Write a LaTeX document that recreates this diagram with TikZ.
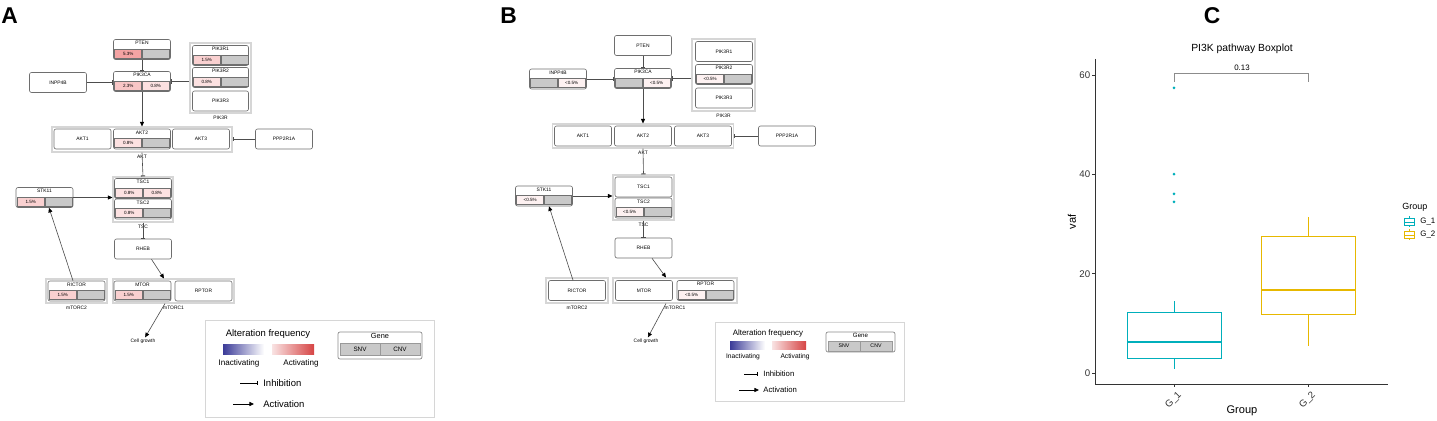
\documentclass[tikz,border=0pt]{standalone}
\usepackage{fontspec}
\setmainfont{Liberation Sans}
\usetikzlibrary{arrows.meta}
\newlength\px
\setlength\px{0.02cm}
\newcommand\fsz[1]{\fontsize{#1}{#1}\selectfont}
\newcommand\genefont{\fsz{2.8}}
\newcommand\cellfont{\fsz{2.6}}
\definecolor{boxline}{HTML}{6E6E6E}
\definecolor{grpline}{HTML}{D6D6D6}
\definecolor{cellgrey}{HTML}{C9C9C9}
\definecolor{cellline}{HTML}{707070}
\definecolor{fA}{HTML}{F4A3A3}
\definecolor{fB}{HTML}{F8C6C6}
\definecolor{fC}{HTML}{F9D0D0}
\definecolor{fD}{HTML}{FCE1E1}
\definecolor{fE}{HTML}{FDF1F1}
\definecolor{inact}{HTML}{3B3B98}
\definecolor{actv}{HTML}{D64444}
\definecolor{gone}{HTML}{00AFBB}
\definecolor{gtwo}{HTML}{E7B800}
\definecolor{edgec}{HTML}{4D4D4D}
\definecolor{axisc}{HTML}{333333}

\begin{document}
\begin{tikzpicture}[x=0.02cm, y=-0.02cm,
  gene/.style={draw=boxline, line width=0.35pt, rounded corners=2*\px, minimum width=57*\px, minimum height=20*\px, inner sep=0pt, font=\genefont},
  bargene/.style={gene, label={[gtitle]north:#1}},
  gtitle/.style={anchor=north, inner sep=1.8*\px, font=\genefont},
  grp/.style={draw=grpline, line width=0.6pt, inner sep=0pt},
  grplabel/.style={font=\genefont, inner sep=2*\px},
  cell/.style={draw=cellline, line width=0.3pt, fill=cellgrey, minimum width=27*\px, minimum height=9*\px, inner sep=0pt, font=\cellfont},
  lcell/.style={cell, anchor=south east},
  rcell/.style={cell, anchor=south west},
  inh/.style={draw=edgec, line width=0.35pt, -{Bar[width=2.4pt, line width=0.6pt]}},
  act/.style={draw=edgec, line width=0.35pt, -{Triangle[length=2.6pt, width=2.3pt, color=black]}},
  panel/.style={font=\fsz{13}\bfseries, inner sep=0pt},
  txt/.style={inner sep=0pt},
  axis/.style={draw=axisc, line width=0.5pt}]
\useasboundingbox (0,0) rectangle (1437,421);

% ---------- panel A ----------
\node[panel] (aLab) at (9.5,16) {A};
% complexes
\node[grp, minimum width=61*\px, minimum height=70*\px, label={[grplabel]south:PIK3R}] (aPIK3R) at (220.5,78) {};
\node[grp, minimum width=180*\px, minimum height=25*\px, label={[grplabel]south:AKT}] (aAKT) at (142,139.5) {};
\node[grp, minimum width=60*\px, minimum height=45*\px, label={[grplabel]south:TSC}] (aTSC) at (143,199.5) {};
\node[grp, minimum width=121*\px, minimum height=24*\px, label={[grplabel]south:mTORC1}] (amTORC1) at (173.5,291) {};
\node[grp, minimum width=61*\px, minimum height=24*\px, label={[grplabel]south:mTORC2}] (amTORC2) at (76.5,291) {};
% genes
\node[bargene=PTEN] (aPTEN) at (142,49.5) {};
\node[lcell, fill=fA] (aPTENs) at ([yshift=1.5*\px]aPTEN.south) {5.3\%};
\node[rcell] (aPTENc) at ([yshift=1.5*\px]aPTEN.south) {};
\node[bargene=PIK3CA] (aPIK3CA) at (142,81.5) {};
\node[lcell, fill=fB] (aPIK3CAs) at ([yshift=1.5*\px]aPIK3CA.south) {2.3\%};
\node[rcell, fill=fD] (aPIK3CAc) at ([yshift=1.5*\px]aPIK3CA.south) {0.8\%};
\node[gene] (aINPP4B) at (58,82.5) {INPP4B};
\node[bargene=PIK3R1, minimum width=56*\px] (aPIK3R1) at (220.5,55.5) {};
\node[lcell, fill=fC] (aPIK3R1s) at ([yshift=1.5*\px]aPIK3R1.south) {1.5\%};
\node[rcell] (aPIK3R1c) at ([yshift=1.5*\px]aPIK3R1.south) {};
\node[bargene=PIK3R2, minimum width=56*\px] (aPIK3R2) at (220.5,77.5) {};
\node[lcell, fill=fD] (aPIK3R2s) at ([yshift=1.5*\px]aPIK3R2.south) {0.8\%};
\node[rcell] (aPIK3R2c) at ([yshift=1.5*\px]aPIK3R2.south) {};
\node[gene, minimum width=56*\px] (aPIK3R3) at (220.5,101) {PIK3R3};
\node[gene] (aAKT1) at (82.5,139) {AKT1};
\node[bargene=AKT2] (aAKT2) at (142,139) {};
\node[lcell, fill=fD] (aAKT2s) at ([yshift=1.5*\px]aAKT2.south) {0.8\%};
\node[rcell] (aAKT2c) at ([yshift=1.5*\px]aAKT2.south) {};
\node[gene] (aAKT3) at (201,139) {AKT3};
\node[gene] (aPPP2R1A) at (284,139) {PPP2R1A};
\node[bargene=TSC1] (aTSC1) at (143,188.5) {};
\node[lcell, fill=fD] (aTSC1s) at ([yshift=1.5*\px]aTSC1.south) {0.8\%};
\node[rcell, fill=fD] (aTSC1c) at ([yshift=1.5*\px]aTSC1.south) {0.8\%};
\node[bargene=TSC2] (aTSC2) at (143,209) {};
\node[lcell, fill=fD] (aTSC2s) at ([yshift=1.5*\px]aTSC2.south) {0.8\%};
\node[rcell] (aTSC2c) at ([yshift=1.5*\px]aTSC2.south) {};
\node[bargene=STK11] (aSTK11) at (44.5,197.5) {};
\node[lcell, fill=fC] (aSTK11s) at ([yshift=1.5*\px]aSTK11.south) {1.5\%};
\node[rcell] (aSTK11c) at ([yshift=1.5*\px]aSTK11.south) {};
\node[gene] (aRHEB) at (143,249) {RHEB};
\node[bargene=MTOR] (aMTOR) at (142.5,291) {};
\node[lcell, fill=fC] (aMTORs) at ([yshift=1.5*\px]aMTOR.south) {1.5\%};
\node[rcell] (aMTORc) at ([yshift=1.5*\px]aMTOR.south) {};
\node[gene] (aRPTOR) at (203.5,291) {RPTOR};
\node[bargene=RICTOR] (aRICTOR) at (76.5,291) {};
\node[lcell, fill=fC] (aRICTORs) at ([yshift=1.5*\px]aRICTOR.south) {1.5\%};
\node[rcell] (aRICTORc) at ([yshift=1.5*\px]aRICTOR.south) {};
\node[txt, font=\genefont, inner sep=1*\px] (aCell) at (143,341) {Cell growth};
% relations
\draw[inh] (aPTEN.south) -- (aPIK3CA.north);
\draw[inh] (aINPP4B.east) -- (aINPP4B.east -| aPIK3CA.west);
\draw[inh] (aPIK3CA.east -| aPIK3R.west) -- (aPIK3CA.east);
\draw[act] (aPIK3CA.south) -- (aAKT.north);
\draw[inh] (aPPP2R1A.west) -- (aPPP2R1A.west -| aAKT.east);
\draw[inh] (aAKT.south) -- (aTSC.north);
\draw[act] (aSTK11.east) -- (aSTK11.east -| aTSC.west);
\draw[inh] (aTSC.south) -- (aRHEB.north);
\draw[act] ([xshift=8.5*\px]aRHEB.south) -- ([xshift=-9.5*\px]amTORC1.north);
\draw[act] ([xshift=-3.5*\px]aRICTOR.north) -- ([xshift=4.5*\px]aSTK11.south);
\draw[act] ([xshift=-8.5*\px]amTORC1.south) -- (aCell);
% legend
\node[draw=grpline, line width=0.5pt, minimum width=229*\px, minimum height=97*\px, inner sep=0pt] (aLeg) at (319.5,368.5) {};
\node[txt, font=\fsz{5.4}] (aLegT) at (268,334) {Alteration frequency};
\shade[left color=inact, right color=white] (223,345) rectangle (264,355);
\shade[left color=actv!15, right color=actv] (272,345) rectangle (314,355);
\node[txt, font=\fsz{4.6}] (aInact) at (239,363) {Inactivating};
\node[txt, font=\fsz{4.6}] (aActv) at (301,363) {Activating};
\coordinate (aInhS) at (240,383);
\coordinate (aInhE) at (258,383);
\draw[inh, draw=black, line width=0.5pt] (aInhS) -- (aInhE);
\node[txt, anchor=west, font=\fsz{5.4}] (aInhT) at (263,383) {Inhibition};
\coordinate (aActS) at (233,404);
\coordinate (aActE) at (254,404);
\draw[act, draw=black, line width=0.5pt] (aActS) -- (aActE);
\node[txt, anchor=west, font=\fsz{5.4}] (aActT) at (263,404) {Activation};
\node[draw=black!45, line width=0.4pt, rounded corners=2*\px, minimum width=84*\px, minimum height=27*\px, inner sep=0pt,
  label={[gtitle, inner sep=1.2*\px, font=\fsz{4.2}]north:Gene}] (aGene) at (380,345.5) {};
\node[cell, draw=black!40, minimum width=40*\px, minimum height=12*\px, font=\fsz{3.6}] (aSNV) at (360,349) {SNV};
\node[cell, draw=black!40, minimum width=40*\px, minimum height=12*\px, font=\fsz{3.6}] (aCNV) at (400,349) {CNV};

% ---------- panel B ----------
\node[panel] (bLab) at (508.5,15.5) {B};
% complexes
\node[grp, minimum width=63*\px, minimum height=72*\px, label={[grplabel]south:PIK3R}] (bPIK3R) at (723.5,75) {};
\node[grp, minimum width=181*\px, minimum height=24*\px, label={[grplabel]south:AKT}] (bAKT) at (643,136) {};
\node[grp, minimum width=61*\px, minimum height=45*\px, label={[grplabel]south:TSC}] (bTSC) at (643.5,197.5) {};
\node[grp, minimum width=124*\px, minimum height=25*\px, label={[grplabel]south:mTORC1}] (bmTORC1) at (675,290.5) {};
\node[grp, minimum width=62*\px, minimum height=25*\px, label={[grplabel]south:mTORC2}] (bmTORC2) at (577,290.5) {};
% genes
\node[gene] (bPTEN) at (643,45.5) {PTEN};
\node[bargene=PIK3CA] (bPIK3CA) at (643,78.5) {};
\node[lcell] (bPIK3CAs) at ([yshift=1.5*\px]bPIK3CA.south) {};
\node[rcell, fill=fE] (bPIK3CAc) at ([yshift=1.5*\px]bPIK3CA.south) {<0.5\%};
\node[bargene=INPP4B] (bINPP4B) at (558,79) {};
\node[lcell] (bINPP4Bs) at ([yshift=1.5*\px]bINPP4B.south) {};
\node[rcell, fill=fE] (bINPP4Bc) at ([yshift=1.5*\px]bINPP4B.south) {<0.5\%};
\node[gene] (bPIK3R1) at (724,51.5) {PIK3R1};
\node[bargene=PIK3R2] (bPIK3R2) at (724,74.5) {};
\node[lcell, fill=fE] (bPIK3R2s) at ([yshift=1.5*\px]bPIK3R2.south) {<0.5\%};
\node[rcell] (bPIK3R2c) at ([yshift=1.5*\px]bPIK3R2.south) {};
\node[gene] (bPIK3R3) at (724,98) {PIK3R3};
\node[gene] (bAKT1) at (583,136) {AKT1};
\node[gene] (bAKT2) at (643,136) {AKT2};
\node[gene] (bAKT3) at (703,136) {AKT3};
\node[gene] (bPPP2R1A) at (787,136) {PPP2R1A};
\node[gene] (bTSC1) at (643.5,187) {TSC1};
\node[bargene=TSC2] (bTSC2) at (643.5,208) {};
\node[lcell, fill=fE] (bTSC2s) at ([yshift=1.5*\px]bTSC2.south) {<0.5\%};
\node[rcell] (bTSC2c) at ([yshift=1.5*\px]bTSC2.south) {};
\node[bargene=STK11] (bSTK11) at (544,196) {};
\node[lcell, fill=fE] (bSTK11s) at ([yshift=1.5*\px]bSTK11.south) {<0.5\%};
\node[rcell] (bSTK11c) at ([yshift=1.5*\px]bSTK11.south) {};
\node[gene] (bRHEB) at (643.5,248) {RHEB};
\node[gene] (bMTOR) at (644,290.5) {MTOR};
\node[bargene=RPTOR] (bRPTOR) at (705.5,290.5) {};
\node[lcell, fill=fE] (bRPTORs) at ([yshift=1.5*\px]bRPTOR.south) {<0.5\%};
\node[rcell] (bRPTORc) at ([yshift=1.5*\px]bRPTOR.south) {};
\node[gene] (bRICTOR) at (577,290.5) {RICTOR};
\node[txt, font=\genefont, inner sep=1*\px] (bCell) at (646,341) {Cell growth};
% relations
\draw[inh] (bPTEN.south) -- (bPIK3CA.north);
\draw[inh] (bINPP4B.east) -- (bINPP4B.east -| bPIK3CA.west);
\draw[inh] (bPIK3CA.east -| bPIK3R.west) -- (bPIK3CA.east);
\draw[act] (bPIK3CA.south) -- (bAKT.north);
\draw[inh] (bPPP2R1A.west) -- (bPPP2R1A.west -| bAKT.east);
\draw[inh] (bAKT.south) -- (bTSC.north);
\draw[act] (bSTK11.east) -- (bSTK11.east -| bTSC.west);
\draw[inh] (bTSC.south) -- (bRHEB.north);
\draw[act] ([xshift=8.5*\px]bRHEB.south) -- ([xshift=-9*\px]bmTORC1.north);
\draw[act] ([xshift=-4*\px]bRICTOR.north) -- ([xshift=5*\px]bSTK11.south);
\draw[act] ([xshift=-9*\px]bmTORC1.south) -- (bCell);
% legend
\node[draw=grpline, line width=0.5pt, minimum width=189*\px, minimum height=79*\px, inner sep=0pt] (bLeg) at (809.5,361.5) {};
\node[txt, font=\fsz{4.5}] (bLegT) at (768,333) {Alteration frequency};
\shade[left color=inact, right color=white] (730,342) rectangle (765,350);
\shade[left color=actv!15, right color=actv] (772,342) rectangle (806,350);
\node[txt, font=\fsz{3.8}] (bInact) at (743,357) {Inactivating};
\node[txt, font=\fsz{3.8}] (bActv) at (795,357) {Activating};
\coordinate (bInhS) at (744,374);
\coordinate (bInhE) at (758,374);
\draw[inh, draw=black, line width=0.45pt] (bInhS) -- (bInhE);
\node[txt, anchor=west, font=\fsz{4.4}] (bInhT) at (763,374) {Inhibition};
\coordinate (bActS) at (739,390);
\coordinate (bActE) at (759,390);
\draw[act, draw=black, line width=0.45pt] (bActS) -- (bActE);
\node[txt, anchor=west, font=\fsz{4.4}] (bActT) at (763,390) {Activation};
\node[draw=black!45, line width=0.4pt, rounded corners=2*\px, minimum width=69*\px, minimum height=20*\px, inner sep=0pt,
  label={[gtitle, inner sep=1*\px, font=\fsz{3.5}]north:Gene}] (bGene) at (860.5,342) {};
\node[cell, draw=black!40, minimum width=32*\px, minimum height=10*\px, font=\fsz{3}] (bSNV) at (844,346) {SNV};
\node[cell, draw=black!40, minimum width=32*\px, minimum height=10*\px, font=\fsz{3}] (bCNV) at (876,346) {CNV};

% ---------- panel C ----------
\node[panel] (cLab) at (1212,16) {C};
\node[txt, font=\fsz{5.9}] (cTitle) at (1242,49) {PI3K pathway Boxplot};
\draw[draw=black!45, line width=0.5pt] (1174,82) -- (1174,73) -- (1308,73) -- (1308,82);
\node[txt, font=\fsz{4.5}] (cP) at (1242,68) {0.13};
\draw[axis] (1095,59) -- (1095,384) -- (1388,384);
\begin{scope}[shift={(0,373)}, y=0.0992cm]
  \foreach \v in {0,20,40,60} {
    \draw[axis] (1092,\v) -- (1095,\v);
    \node[txt, anchor=east, font=\fsz{5.5}, text=black!80] (cT\v) at (1090.5,\v) {\v};
  }
  % G_1
  \draw[gone, line width=0.5pt] (1127,3.0) rectangle (1221,12.3);
  \draw[gone, line width=1pt] (1127,6.25) -- (1221,6.25);
  \draw[gone, line width=0.5pt] (1174,12.3) -- (1174,14.5);
  \draw[gone, line width=0.5pt] (1174,3.0) -- (1174,0.8);
  \foreach \v in {57.5,40.1,36.1,34.5}
    \fill[gone] (1174,\v) circle (0.85pt);
  % G_2
  \draw[gtwo, line width=0.5pt] (1261,11.9) rectangle (1355,27.6);
  \draw[gtwo, line width=1pt] (1261,16.7) -- (1355,16.7);
  \draw[gtwo, line width=0.5pt] (1308,27.6) -- (1308,31.5);
  \draw[gtwo, line width=0.5pt] (1308,11.9) -- (1308,5.4);
\end{scope}
\draw[axis] (1174,384) -- (1174,387);
\draw[axis] (1308,384) -- (1308,387);
\node[txt, rotate=45, anchor=north east, font=\fsz{5.5}, text=black!80] (cG1) at (1177,390) {G\_1};
\node[txt, rotate=45, anchor=north east, font=\fsz{5.5}, text=black!80] (cG2) at (1311,390) {G\_2};
\node[txt, font=\fsz{6.3}] (cXlab) at (1242,411) {Group};
\node[txt, rotate=90, font=\fsz{6.3}] (cYlab) at (1072,222) {vaf};
% legend
\node[txt, anchor=west, font=\fsz{5.1}] (cLegT) at (1402,207) {Group};
\draw[gone, line width=0.5pt] (1404,218.5) rectangle (1414,225.5);
\draw[gone, line width=0.5pt] (1404,222) -- (1414,222) (1409,216.5) -- (1409,218.5) (1409,225.5) -- (1409,227.5);
\node[txt, anchor=west, font=\fsz{4.5}] (cL1) at (1420,222) {G\_1};
\draw[gtwo, line width=0.5pt] (1404,231.5) rectangle (1414,238.5);
\draw[gtwo, line width=0.5pt] (1404,235) -- (1414,235) (1409,229.5) -- (1409,231.5) (1409,238.5) -- (1409,240.5);
\node[txt, anchor=west, font=\fsz{4.5}] (cL2) at (1420,235) {G\_2};
\end{tikzpicture}
\end{document}
